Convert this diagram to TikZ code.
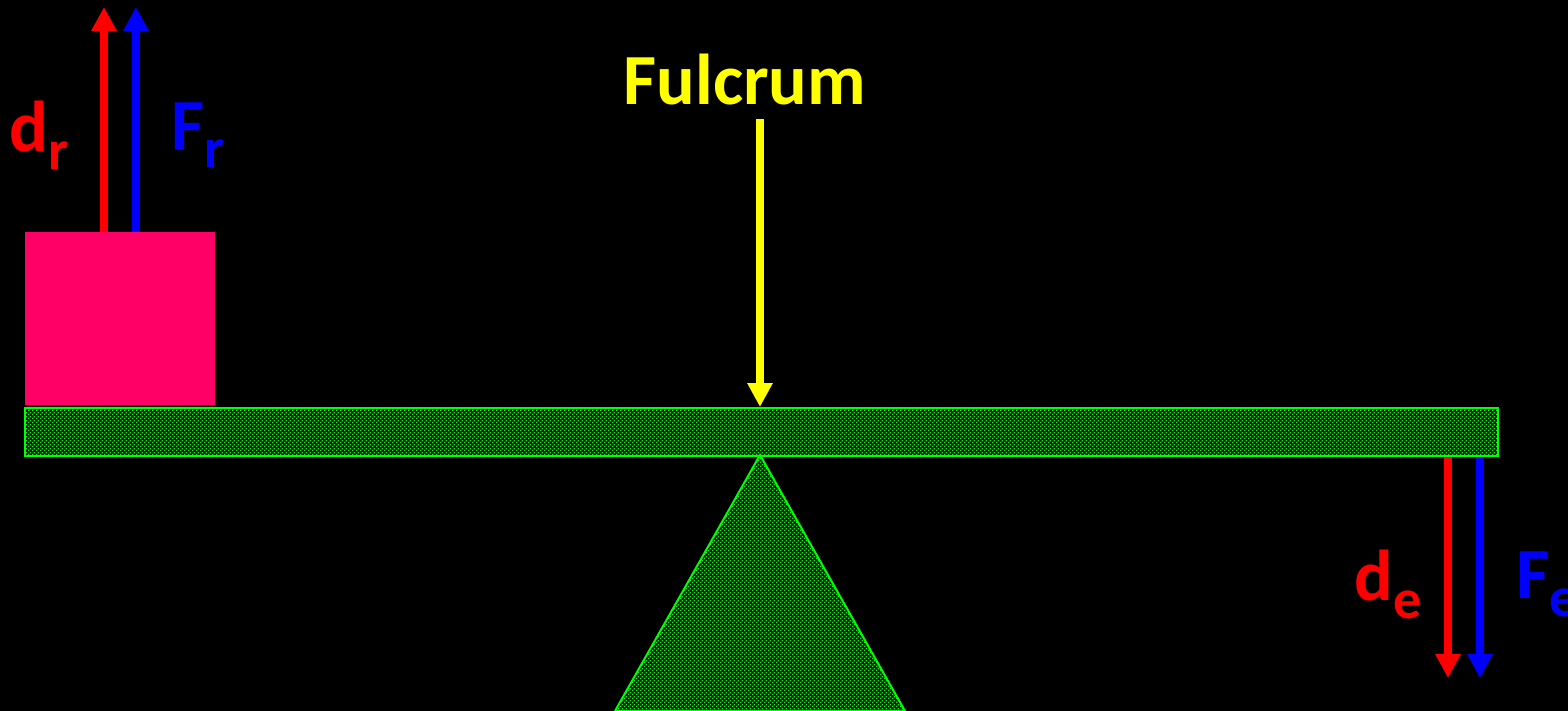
\documentclass[tikz,border=0pt]{standalone}
\usepackage{fontspec}
\setmainfont{Carlito}
\usetikzlibrary{arrows.meta,patterns}
\definecolor{lvgreen}{HTML}{00FF00}
\definecolor{lvpink}{HTML}{FF0066}
\definecolor{lvyellow}{HTML}{FFFF00}
\pgfdeclarepatternformonly{lvdots}{\pgfpointorigin}{\pgfpoint{4pt}{4pt}}{\pgfpoint{4pt}{4pt}}{%
  \pgfpathrectangle{\pgfpoint{0pt}{0pt}}{\pgfpoint{1.6pt}{1.6pt}}%
  \pgfpathrectangle{\pgfpoint{2pt}{2pt}}{\pgfpoint{1.6pt}{1.6pt}}\pgfusepath{fill}}
\newcommand{\lvsub}[2]{#1\raisebox{-18pt}{\fontsize{56}{56}\selectfont #2}}
\tikzset{>={Triangle[width=24pt,length=24pt]},
  every node/.style={font=\fontsize{72}{72}\selectfont\bfseries,inner sep=0pt},
  arr/.style={line width=8pt,->},
  lever/.style={draw=lvgreen,line width=2pt,pattern=lvdots,pattern color=lvgreen}}

\begin{document}
\begin{tikzpicture}[x=1pt,y=-1pt]
\fill[black] (0,0) rectangle (1568,711);\useasboundingbox (0,0) rectangle (1568,711);
% lever, load and pivot
\draw[lever] (760,455)--(905,711)--(615,711)--cycle;
\node[lever,minimum width=1473pt,minimum height=48pt,anchor=north west] (beam) at (24,407) {};
\node[fill=lvpink,minimum width=190pt,minimum height=173pt,anchor=south west] (load) at (25,405) {};
\coordinate (pivot) at (760,455);
% resistance side
\coordinate (dr) at (104,7);\coordinate (Fr) at (136,7);
\draw[arr,red] (load.north west-|dr)--(dr);\draw[arr,blue] (load.north west-|Fr)--(Fr);
\node[red] (drlab) at (39,135) {\lvsub{d}{r}};\node[blue] (Frlab) at (198,135) {\lvsub{F}{r}};
% effort side
\coordinate (de) at (1448,678);\coordinate (Fe) at (1480,678);
\draw[arr,red] (beam.south west-|de)--(de);\draw[arr,blue] (beam.south west-|Fe)--(Fe);
\node[red] (delab) at (1388,584) {\lvsub{d}{e}};\node[blue] (Felab) at (1547,584) {\lvsub{F}{e}};
% fulcrum
\node[lvyellow] (fulc) at (745,80) {Fulcrum};
\draw[arr,lvyellow] (760,119)--(beam.north-|pivot);
\end{tikzpicture}
\end{document}
